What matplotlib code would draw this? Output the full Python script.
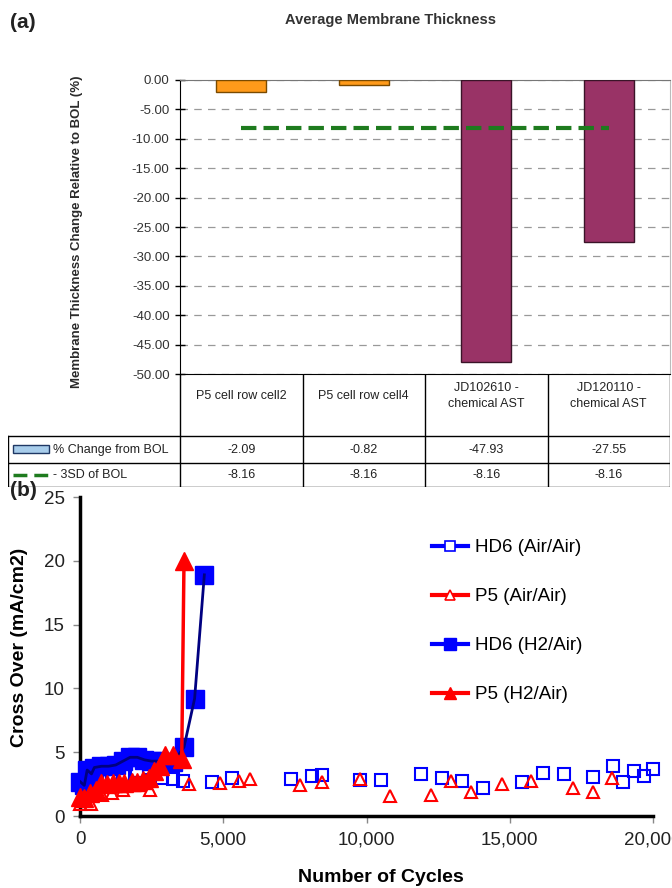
import numpy as np
import matplotlib
matplotlib.use('Agg')
import matplotlib.pyplot as plt
from matplotlib.lines import Line2D
from matplotlib.patches import Rectangle

plt.rcParams['font.family'] = ['Liberation Sans Narrow', 'Liberation Sans', 'DejaVu Sans']
WIDE = ['Liberation Sans', 'DejaVu Sans']

# ---- (a) average membrane thickness ----
samples = ['P5 cell row cell2', 'P5 cell row cell4',
           'JD102610 -\nchemical AST', 'JD120110 -\nchemical AST']
pct_change = [-2.09, -0.82, -47.93, -27.55]
sd3_bol = [-8.16, -8.16, -8.16, -8.16]
row_labels = ['% Change from BOL', '- 3SD of BOL']
bar_colors = ['#FF9A1A', '#FF9A1A', '#993366', '#993366']
bar_edges = ['#7A4A00', '#7A4A00', '#3A1428', '#3A1428']

# ---- (b) cross over vs cycles ----
hd6_air_cyc = [300, 700, 1100, 1500, 1980, 2400, 2850, 3250, 3580, 4600, 5320,
               7350, 8090, 8450, 9790, 10510, 11900, 12620, 13350, 14060, 15430,
               16150, 16890, 17900, 18620, 18960, 19350, 19700, 20010]
hd6_air_val = [2.8, 3.0, 3.1, 3.2, 3.5, 3.8, 2.95, 2.9, 2.75, 2.65, 3.0,
               2.92, 3.1, 3.25, 2.85, 2.82, 3.26, 3.0, 2.74, 2.17, 2.69,
               3.34, 3.26, 3.08, 3.94, 2.64, 3.53, 3.13, 3.68]
p5_air_cyc = [0, 400, 760, 1120, 1500, 2440, 3800, 4890, 5560, 5930, 7680,
              8430, 9790, 10830, 12240, 12950, 13640, 14720, 15750, 17200, 17900, 18560]
p5_air_val = [0.95, 0.97, 1.65, 1.78, 2.0, 2.05, 2.52, 2.56, 2.72, 2.87, 2.4,
              2.65, 2.87, 1.58, 1.65, 2.74, 1.86, 2.48, 2.74, 2.17, 1.86, 2.95]
hd6_h2_cyc = [0, 150, 250, 400, 500, 750, 1000, 1250, 1500, 1750, 2000, 2250, 2500,
              2750, 3000, 3250, 3630, 4000, 4340]
hd6_h2_val = [2.7, 2.4, 3.6, 3.3, 3.8, 3.9, 3.9, 4.0, 4.3, 4.6, 4.6, 4.4, 4.3,
              4.3, 4.2, 4.2, 5.4, 9.2, 18.9]
p5_h2_cyc = [0, 150, 350, 550, 750, 950, 1150, 1350, 1550, 1800, 2000, 2200,
             2400, 2600, 2800, 2950, 3250, 3550, 3630]
p5_h2_val = [1.5, 1.4, 1.8, 2.0, 2.6, 2.5, 2.6, 2.6, 2.6, 2.7, 2.7, 2.8,
             3.0, 3.5, 3.9, 4.8, 4.8, 4.5, 20.0]
x_ticks = [0, 5000, 10000, 15000, 20000]
y_ticks = [0, 5, 10, 15, 20, 25]

W, H = 672, 888
fig = plt.figure(figsize=(W / 100, H / 100), dpi=100)


def px_axes(x0, y0, x1, y1):
    return fig.add_axes([x0 / W, 1 - y1 / H, (x1 - x0) / W, (y1 - y0) / H])


# ---------------- panel (a) ----------------
ax = px_axes(180, 80, 670, 374)
xpos = np.arange(len(samples))
ax.bar(xpos, pct_change, width=0.41, color=bar_colors, edgecolor=bar_edges,
       linewidth=1, zorder=3)
ax.plot(xpos, sd3_bol, color='#1E7B1E', lw=3, dashes=(3.7, 1.7), zorder=4)
ax.set_xlim(-0.5, len(samples) - 0.5)
ax.set_ylim(-50, 0)
yt = np.arange(-50, 0.1, 5)
ax.set_yticks(yt)
ax.set_yticklabels([f'{v:.2f}' for v in yt])
ax.set_xticks([])
ax.yaxis.grid(True, color='#999999', lw=0.9, ls=(0, (6, 5)))
ax.set_axisbelow(True)
ax.tick_params(axis='y', direction='inout', length=7, width=1, color='black',
               labelsize=9.5, labelcolor='#333333', pad=4)
for s in ['left', 'bottom']:
    ax.spines[s].set_color('black')
ax.spines['top'].set_color('#777777')
ax.spines['right'].set_color('#BBBBBB')

fig.text(390 / W, 1 - 20 / H, 'Average Membrane Thickness', ha='center', va='center',
         fontsize=10.5, fontweight='bold', color='#333333')
fig.text(77 / W, 1 - 232 / H, 'Membrane Thickness Change Relative to BOL (%)',
         rotation=90, ha='center', va='center', fontsize=9.5, fontweight='bold',
         color='#2A2A2A', family=WIDE)
fig.text(10 / W, 1 - 22 / H, '(a)', ha='left', va='center', fontsize=15,
         fontweight='bold', color='#222222')

# data table under the bars
tx = px_axes(8, 374, 670, 487)
tx.set_xlim(0, 662)
tx.set_ylim(113, 0)
tx.axis('off')
col0 = 172
colw = (662 - col0) / len(samples)
rows_y = [0, 62, 89, 113]
lk = dict(color='black', lw=1)
for y in rows_y[1:]:
    tx.plot([0, 662], [y, y], **lk)
tx.plot([0, 0], [rows_y[1], rows_y[-1]], **lk)
for i in range(len(samples) + 1):
    xx = col0 + i * colw
    tx.plot([xx, xx], [0, 113], **lk)
fs_t = 9
r1 = (rows_y[1] + rows_y[2]) / 2
r2 = (rows_y[2] + rows_y[3]) / 2
for i, name in enumerate(samples):
    cx = col0 + (i + 0.5) * colw
    tx.text(cx, 22, name, ha='center', va='center', fontsize=fs_t, color='#222222',
            linespacing=1.4)
    tx.text(cx, r1, f'{pct_change[i]:.2f}', ha='center', va='center', fontsize=fs_t,
            color='#222222')
    tx.text(cx, r2, f'{sd3_bol[i]:.2f}', ha='center', va='center', fontsize=fs_t,
            color='#222222')
tx.add_patch(Rectangle((5, r1 - 4), 36, 8, facecolor='#A8CDEB', edgecolor='#1F3864', lw=1))
tx.plot([5, 41], [r2, r2], color='#1E7B1E', lw=2.5, dashes=(4, 2))
tx.text(45, r1, row_labels[0], ha='left', va='center', fontsize=fs_t, color='#222222')
tx.text(45, r2, row_labels[1], ha='left', va='center', fontsize=fs_t, color='#222222')

# ---------------- panel (b) ----------------
bx = px_axes(80, 497, 653, 816)
bx.plot(hd6_air_cyc, hd6_air_val, ls='none', marker='s', ms=8, mfc='none',
        mec='#0000FF', mew=1.5, zorder=3, clip_on=False)
bx.plot(p5_air_cyc, p5_air_val, ls='none', marker='^', ms=9, mfc='none',
        mec='#FF0000', mew=1.5, zorder=3, clip_on=False)
bx.plot(hd6_h2_cyc, hd6_h2_val, ls='none', marker='s', ms=13, color='#0000FF',
        zorder=4, clip_on=False)
bx.plot(hd6_h2_cyc, hd6_h2_val, color='#000080', lw=2, zorder=5)
bx.plot(p5_h2_cyc, p5_h2_val, color='#FF0000', lw=2.5, marker='^', ms=13,
        zorder=6, clip_on=False)
bx.set_xlim(0, 20000)
bx.set_ylim(0, 25)
bx.set_xticks(x_ticks)
bx.set_xticklabels([f'{t:,}' for t in x_ticks])
bx.set_yticks(y_ticks)
for s in ['top', 'right']:
    bx.spines[s].set_visible(False)
for s in ['left', 'bottom']:
    bx.spines[s].set_linewidth(2.5)
    bx.spines[s].set_color('black')
bx.tick_params(direction='out', length=5, width=1, color='#888888',
               labelsize=13.5, labelcolor='#222222', pad=6)
bx.set_ylabel('Cross Over (mA/cm2)', fontsize=14, fontweight='bold', family=WIDE)
bx.yaxis.set_label_coords(-52 / 573, 0.53)
fig.text(381 / W, 1 - 877 / H, 'Number of Cycles', ha='center', va='center',
         fontsize=14, fontweight='bold', family=WIDE)
fig.text(10 / W, 1 - 490 / H, '(b)', ha='left', va='center', fontsize=15,
         fontweight='bold', color='#222222')

handles = [
    Line2D([], [], color='#0000FF', lw=3, marker='s', ms=7, mfc='white', mec='#0000FF', mew=1.2),
    Line2D([], [], color='#FF0000', lw=3, marker='^', ms=7, mfc='white', mec='#FF0000', mew=1.2),
    Line2D([], [], color='#0000FF', lw=3, marker='s', ms=8),
    Line2D([], [], color='#FF0000', lw=3, marker='^', ms=9),
]
labels = ['HD6 (Air/Air)', 'P5 (Air/Air)', 'HD6 (H2/Air)', 'P5 (H2/Air)']
fig.legend(handles, labels, loc='upper left', bbox_to_anchor=(432 / W, 1 - 539 / H),
           frameon=False, fontsize=13.5, handlelength=1.9, handletextpad=0.4,
           labelspacing=1.7, borderpad=0, borderaxespad=0)

fig.savefig('out.png', dpi=100)
